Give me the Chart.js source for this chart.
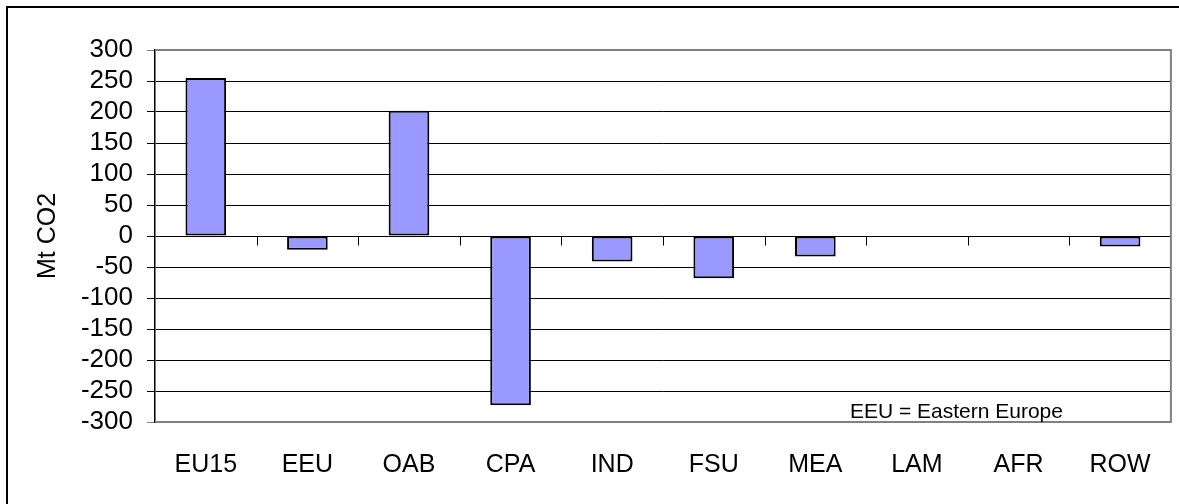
<!DOCTYPE html>
<html>
<head>
<meta charset="utf-8">
<script src="https://cdn.jsdelivr.net/npm/chart.js@4"></script>
<style>
  html, body { margin: 0; padding: 0; background: #fff; overflow: hidden; }
  #wrap { position: relative; width: 1179px; height: 504px; }
  #frame { position: absolute; left: 6px; top: 6px; width: 1400px; height: 700px; border: 2px solid #000; box-sizing: border-box; }
  canvas { position: absolute; left: 0; top: 0; }
</style>
</head>
<body>
<div id="wrap">
  <div id="frame"></div>
  <canvas id="chart" width="1179" height="504"></canvas>
</div>
<script>
const regions = ['EU15', 'EEU', 'OAB', 'CPA', 'IND', 'FSU', 'MEA', 'LAM', 'AFR', 'ROW'];
const co2Change = [255, -22, 202, -273, -41, -68, -33, 0, 0, -17];
const yMin = -300;
const yMax = 300;
const yStep = 50;
const yTitle = 'Mt CO2';
const note = 'EEU = Eastern Europe';

const FONT = '"Liberation Sans", Arial, sans-serif';

// frame of the plot area, category ticks on the zero line and the note
const extras = {
    id: 'extras',
    beforeDatasetsDraw(chart) {
        const { ctx, chartArea: a } = chart;
        ctx.save();
        ctx.strokeStyle = '#808080';
        ctx.lineWidth = 2;
        ctx.beginPath();
        ctx.moveTo(a.left, a.top);
        ctx.lineTo(a.right, a.top);
        ctx.lineTo(a.right, a.bottom);
        ctx.lineTo(a.left, a.bottom);
        ctx.stroke();
        ctx.restore();
    },
    afterDatasetsDraw(chart) {
        const { ctx, chartArea: a, scales } = chart;
        const x = scales.x, y = scales.y;
        const y0 = Math.round(y.getPixelForValue(0)) + 0.5;
        ctx.save();
        ctx.strokeStyle = '#000';
        ctx.lineWidth = 1;
        ctx.beginPath();
        for (let i = 0; i < regions.length - 1; i++) {
            const bx = Math.round((x.getPixelForValue(i) + x.getPixelForValue(i + 1)) / 2) + 0.5;
            ctx.moveTo(bx, y0);
            ctx.lineTo(bx, y0 + 9);
        }
        ctx.stroke();
        ctx.fillStyle = '#000';
        ctx.font = '21px ' + FONT;
        ctx.textAlign = 'left';
        ctx.textBaseline = 'alphabetic';
        ctx.fillText(note, a.right - 321, a.bottom - 4);
        ctx.restore();
    }
};

new Chart(document.getElementById('chart'), {
    type: 'bar',
    data: {
        labels: regions,
        datasets: [{
            data: co2Change,
            backgroundColor: '#9999FF',
            borderColor: '#000',
            borderWidth: 2,
            borderSkipped: false,
            barPercentage: 0.4,
            categoryPercentage: 1.0
        }]
    },
    options: {
        responsive: false,
        animation: false,
        layout: { padding: { left: 10, top: 50, right: 7, bottom: 0 } },
        plugins: {
            legend: { display: false },
            tooltip: { enabled: false }
        },
        scales: {
            x: {
                grid: { display: false, drawTicks: false },
                border: { display: false },
                ticks: { color: '#000', font: { family: FONT, size: 25 }, padding: 28, maxRotation: 0, autoSkip: false },
                afterFit: s => { s.height = 82; }
            },
            y: {
                min: yMin,
                max: yMax,
                grid: {
                    color: ctx => (ctx.tick && (ctx.tick.value === yMax || ctx.tick.value === yMin)) ? '#808080' : '#000',
                    lineWidth: 1,
                    tickLength: 8,
                    drawTicks: true
                },
                border: { display: true, color: '#000', width: 1.5 },
                ticks: {
                    stepSize: yStep,
                    autoSkip: false,
                    color: '#000',
                    padding: 14,
                    font: { family: FONT, size: 26, lineHeight: 1.0 }
                },
                title: {
                    display: true,
                    text: yTitle,
                    color: '#000',
                    font: { family: FONT, size: 25 },
                    padding: { top: 23, bottom: 0 }
                },
                afterFit: s => { s.width = 145; }
            }
        }
    },
    plugins: [extras]
});
</script>
</body>
</html>
